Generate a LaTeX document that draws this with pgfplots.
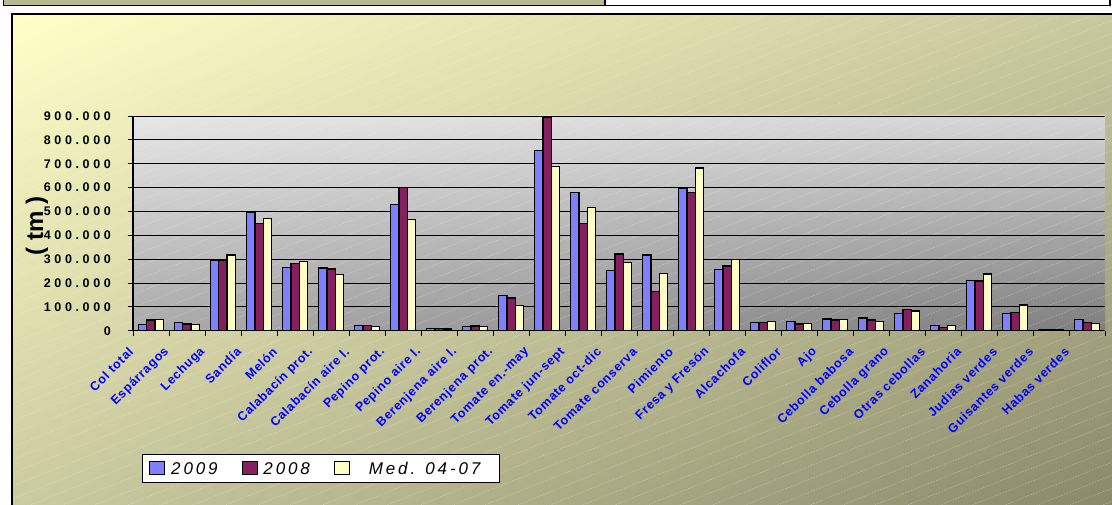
\documentclass[border=0pt]{standalone}
\usepackage{fontspec}
\setmainfont{Liberation Sans}
\usepackage{pgfplots}
\usepackage{pgfplotstable}
\pgfplotsset{compat=1.18}
\usetikzlibrary{shadings}

\definecolor{serA}{HTML}{8080FF}
\definecolor{serB}{HTML}{851F60}
\definecolor{serC}{HTML}{FFFFC4}
\definecolor{labblue}{HTML}{0000FF}
\definecolor{stripcol}{HTML}{B9B991}
\definecolor{bgUL}{RGB}{255,255,200}
\definecolor{bgUR}{RGB}{200,200,158}
\definecolor{bgLL}{RGB}{202,202,160}
\definecolor{bgLR}{RGB}{136,136,104}
\definecolor{paUL}{RGB}{230,230,230}
\definecolor{paUR}{RGB}{212,212,212}
\definecolor{paLL}{RGB}{170,170,170}
\definecolor{paLR}{RGB}{126,126,126}

% production (tm) per crop: 2009, 2008, mean 2004-07
\pgfplotstableread{
cat y2009 y2008 med
1  26500  44700  47500
2  33500  28000  26500
3  296000 296000 317000
4  497500 451000 469500
5  264000 282000 291000
6  263000 258500 236000
7  22400  22400  18000
8  530000 599500 467000
9  8400   9800   7000
10 16800  19600  18000
11 146700 137000 105000
12 757000 895000 687600
13 580000 450000 517000
14 251500 321400 285000
15 317000 165000 240000
16 598000 578500 682000
17 255700 271000 300000
18 35000  35000  37700
19 37700  28000  29000
20 49000  44700  47500
21 53000  44700  39000
22 72700  89400  82400
23 22400  14000  21000
24 211000 208000 237600
25 71000  75500  107600
26 5600   5600   5600
27 47500  35000  30700
}\datatable

\pgfplotsset{sq legend/.style={legend image code/.code={
  \draw[##1, line width=0.8pt] (0pt,-6.5pt) rectangle (15pt,6.5pt);}}}

\begin{document}
\begin{tikzpicture}
\useasboundingbox (0pt,0pt) rectangle (1112pt,504pt);
\begin{scope}
  \clip (0pt,0pt) rectangle (1112pt,504pt);
  % top strip
  \filldraw[fill=stripcol, draw=black, line width=1.3pt] (3.5pt,512pt) rectangle (605pt,498.5pt);
  \filldraw[fill=white, draw=black, line width=1.3pt] (605pt,512pt) rectangle (1110pt,498.5pt);
  % chart area
  \shade[upper left=bgUL, upper right=bgUR, lower left=bgLL, lower right=bgLR]
    (12pt,490pt) rectangle (1125pt,-10pt);
  % plot area
  \shade[upper left=paUL, upper right=paUR, lower left=paLL, lower right=paLR]
    (133pt,173.3pt) rectangle (1105pt,388pt);
  \begin{scope}
    \clip (12pt,-10pt) rectangle (1125pt,490pt);
    \foreach \i in {-50,...,40}
      \draw[white, opacity=0.3, line width=0.6pt, dash pattern=on 1.5pt off 1.5pt]
        (0pt,\i*13pt) -- ++(1200pt,480pt);
  \end{scope}
  \draw[black, line width=1.5pt] (12pt,-10pt) -- (12pt,490pt) -- (1125pt,490pt);
\end{scope}

\begin{axis}[
    at={(133pt,173.3pt)}, anchor=south west,
    scale only axis, width=972pt, height=214.7pt,
    ybar=0pt, bar width=8.2pt,
    xmin=0.5, xmax=27.5, ymin=0, ymax=900000,
    axis x line*=bottom, axis y line*=left,
    axis line style={black, line width=1.2pt},
    tick align=outside,
    major tick length=5pt,
    tick style={black, line width=0.8pt},
    xtick={0.5,1.5,...,27.5},
    x tick label as interval,
    xticklabels={Col total,Espárragos,Lechuga,Sandía,Melón,Calabacín prot.,
      Calabacín aire l.,Pepino prot.,Pepino aire l.,Berenjena aire l.,
      Berenjena prot.,Tomate en.-may,Tomate jun-sept,Tomate oct-dic,
      Tomate conserva,Pimiento,Fresa y Fresón,Alcachofa,Coliflor,Ajo,
      Cebolla babosa,Cebolla grano,Otras cebollas,Zanahoria,Judias verdes,
      Guisantes verdes,Habas verdes},
    xticklabel style={font=\bfseries\fontsize{12.5}{13}\selectfont\addfontfeature{LetterSpace=6},
      text=labblue, xshift=-20pt, yshift=-14pt, rotate=45, anchor=east, inner sep=0pt},
    scaled y ticks=false,
    ytick={0,100000,...,900000},
    yticklabels={0,100.000,200.000,300.000,400.000,500.000,600.000,700.000,800.000,900.000},
    yticklabel style={font=\bfseries\fontsize{12.5}{13}\selectfont\addfontfeature{LetterSpace=29},
      inner sep=0pt, xshift=-17pt},
    ymajorgrids, grid style={black, line width=0.8pt},
    ylabel={( tm )},
    ylabel style={at={(axis description cs:-0.0988,0.4877)}, anchor=center,
      font=\bfseries\fontsize{24}{24}\selectfont},
    legend columns=-1,
    legend style={at={(axis description cs:0.00926,-0.574)}, anchor=north west,
      draw=black, line width=0.8pt, fill=white, inner xsep=7pt, inner ysep=7pt,
      font=\itshape\fontsize{17}{17}\selectfont\addfontfeature{LetterSpace=17},
      nodes={inner sep=0pt, text depth=0pt},
      /tikz/every odd column/.append style={column sep=6pt},
      /tikz/every even column/.append style={column sep=24pt}},
    every axis plot/.append style={draw=black, line width=1.2pt},
  ]
  \addplot[fill=serA, sq legend] table[x=cat, y=y2009]{\datatable};
  \addplot[fill=serB, sq legend] table[x=cat, y=y2008]{\datatable};
  \addplot[fill=serC, sq legend] table[x=cat, y=med]{\datatable};
  \legend{2009,2008,\hspace{13pt}Med. 04-07\rule{12pt}{0pt}}
\end{axis}
\end{tikzpicture}
\end{document}
